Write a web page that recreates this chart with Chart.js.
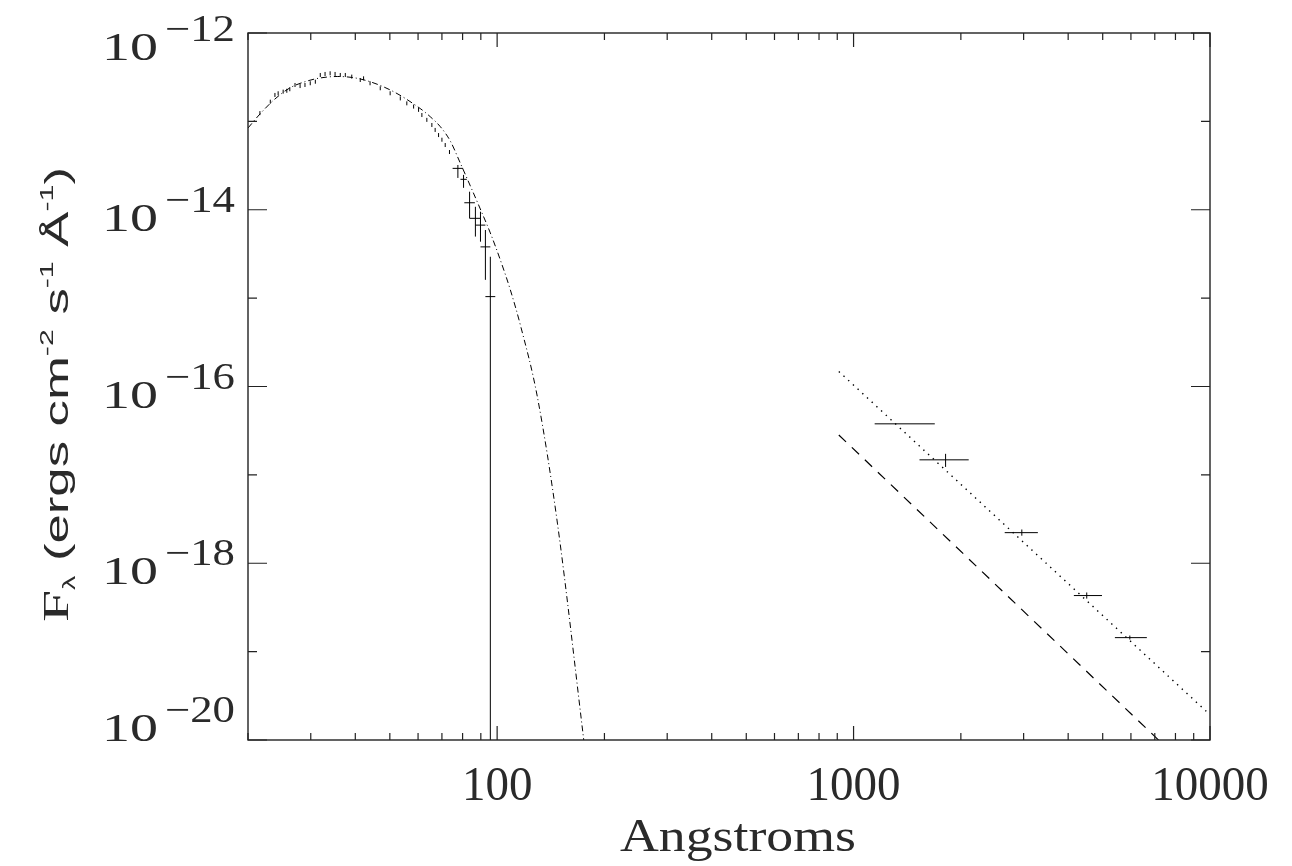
<!DOCTYPE html>
<html>
<head>
<meta charset="utf-8">
<script src="https://cdn.jsdelivr.net/npm/chart.js@4.4.1/dist/chart.umd.min.js"></script>
<style>
  html, body { margin: 0; padding: 0; background: #fff; }
  canvas { display: block; }
</style>
</head>
<body>
<canvas id="chart" width="1292" height="866"></canvas>
<script>
// model spectrum (dash-dot)
const modelWave = [20, 21.6, 23.8, 26.2, 29.3, 31.9, 35.6, 41.3, 50.1, 60.8, 64.9, 69.3, 73.9, 78.8, 84.1, 89.7, 95.7,
  102.1, 108.9, 116.2, 129.7, 147.6, 174.6, 185.1];
const modelFlux = [8.41e-14, 1.21e-13, 1.79e-13, 2.39e-13, 2.86e-13, 3.10e-13, 3.22e-13, 3.02e-13, 2.27e-13, 1.40e-13, 1.13e-13,
  8.7e-14, 5.99e-14, 3.38e-14, 1.86e-14, 1.02e-14, 5.46e-15, 2.70e-15, 1.24e-15, 4.96e-16, 7.61e-17, 2.85e-18, 1.08e-20, 1.5e-21];

// EUV spectrum bins (small ticks)
const specWave = [21.6, 23.1, 23.8, 24.3, 25.1, 25.7, 26.2, 27.1, 28.0, 28.9, 29.9, 30.9, 31.9, 32.9, 34.0, 35.1, 36.3, 37.5, 39.1,
  41.3, 42.2, 44.0, 47.0, 50.1, 53.5, 55.8, 58.3, 60.2, 61.5, 63.5, 65.6, 67.0, 68.5, 70.0, 71.5, 73.5];
const specFlux = [1.24e-13, 1.67e-13, 1.99e-13, 2.08e-13, 2.17e-13, 2.22e-13, 2.31e-13, 2.58e-13, 2.51e-13, 2.58e-13, 2.70e-13, 2.81e-13,
  3.35e-13, 3.44e-13, 3.50e-13, 3.44e-13, 3.35e-13, 3.35e-13, 3.21e-13, 2.94e-13, 3.07e-13, 2.70e-13, 2.37e-13, 2.08e-13, 1.82e-13,
  1.60e-13, 1.47e-13, 1.35e-13, 1.18e-13, 1.04e-13, 9.1e-14, 8.0e-14, 7.0e-14, 6.2e-14, 5.4e-14, 4.5e-14];

// EUV points with error bars
const euvWave = [77.6, 80.5, 83.7, 86.9, 89.8, 92.7, 95.7];
const euvWaveLo = [75.0, 78.9, 80.9, 83.7, 86.9, 89.8, 92.7];
const euvWaveHi = [80.3, 82.2, 86.6, 89.8, 92.7, 95.7, 98.8];
const euvFlux = [2.94e-14, 2.21e-14, 1.20e-14, 8.0e-15, 6.7e-15, 3.8e-15, 1.04e-15];
const euvFluxLo = [2.29e-14, 1.77e-14, 8.0e-15, 4.97e-15, 4.35e-15, 1.61e-15, 1e-25];
const euvFluxHi = [3.21e-14, 2.48e-14, 1.60e-14, 1.08e-14, 9.5e-15, 5.9e-15, 2.94e-15];

// optical / UV photometry
const optWave = [1390, 1812, 2965, 4510, 5958];
const optWaveLo = [1146, 1531, 2655, 4150, 5410];
const optWaveHi = [1690, 2104, 3289, 4977, 6650];
const optFlux = [3.78e-17, 1.48e-17, 2.22e-18, 4.31e-19, 1.44e-19];
const optFluxLo = [3.78e-17, 1.23e-17, 2.05e-18, 3.98e-19, 1.37e-19];
const optFluxHi = [3.78e-17, 1.73e-17, 2.41e-18, 4.67e-19, 1.52e-19];

// power laws
const dotWave = [909, 10000];
const dotFlux = [1.48e-16, 1.93e-20];
const dashWave = [909, 10000];
const dashFlux = [2.83e-17, 2.78e-21];

// axes
const xMin = 20, xMax = 10000;
const yMin = 1e-20, yMax = 1e-12;
const xMajorTicks = [100, 1000, 10000];
const xTickLabels = ["100", "1000", "10000"];
const xMinorTicks = [20, 30, 40, 50, 60, 70, 80, 90, 200, 300, 400, 500, 600, 700, 800, 900, 2000, 3000, 4000, 5000, 6000, 7000, 8000, 9000];
const yMajorTicks = [1e-12, 1e-14, 1e-16, 1e-18, 1e-20];
const yTickExponents = ["\u221212", "\u221214", "\u221216", "\u221218", "\u221220"];
const yMinorTicks = [1e-13, 1e-15, 1e-17, 1e-19];
const xTitle = "Angstroms";

const pts = (xs, ys) => xs.map((x, i) => ({ x, y: ys[i] }));

const errorBars = {
  id: "errorBars",
  afterDatasetsDraw(chart) {
    const { ctx, chartArea: a, scales: { x, y } } = chart;
    ctx.save();
    ctx.beginPath();
    ctx.rect(a.left, a.top, a.right - a.left, a.bottom - a.top);
    ctx.clip();
    ctx.strokeStyle = "#000";
    ctx.lineWidth = 1;
    const draw = (w, wl, wh, f, fl, fh) => {
      w.forEach((_, i) => {
        const px = x.getPixelForValue(w[i]);
        const py = y.getPixelForValue(f[i]);
        ctx.beginPath();
        ctx.moveTo(x.getPixelForValue(wl[i]), py);
        ctx.lineTo(x.getPixelForValue(wh[i]), py);
        ctx.moveTo(px, Math.min(y.getPixelForValue(fl[i]), a.bottom + 5));
        ctx.lineTo(px, y.getPixelForValue(fh[i]));
        ctx.stroke();
      });
    };
    draw(euvWave, euvWaveLo, euvWaveHi, euvFlux, euvFluxLo, euvFluxHi);
    draw(optWave, optWaveLo, optWaveHi, optFlux, optFluxLo, optFluxHi);
    ctx.restore();
  },
};

// draw text stretched to a given width
const fitText = (ctx, text, font, x, y, width, align) => {
  ctx.font = font;
  const w = ctx.measureText(text).width;
  const sx = width / w;
  ctx.save();
  ctx.translate(x, y);
  ctx.scale(sx, 1);
  ctx.textAlign = align;
  ctx.textBaseline = "alphabetic";
  ctx.fillText(text, 0, 0);
  ctx.restore();
};

const frame = {
  id: "frame",
  afterDraw(chart) {
    const { ctx, chartArea: a, scales: { x, y } } = chart;
    ctx.save();
    ctx.strokeStyle = "#222";
    ctx.lineWidth = 1.4;
    ctx.strokeRect(a.left, a.top, a.right - a.left, a.bottom - a.top);
    ctx.lineWidth = 1.2;
    ctx.beginPath();
    const xTick = (v, len) => {
      const px = x.getPixelForValue(v);
      ctx.moveTo(px, a.bottom); ctx.lineTo(px, a.bottom - len);
      ctx.moveTo(px, a.top); ctx.lineTo(px, a.top + len);
    };
    const yTick = (v, len) => {
      const py = y.getPixelForValue(v);
      ctx.moveTo(a.left, py); ctx.lineTo(a.left + len, py);
      ctx.moveTo(a.right, py); ctx.lineTo(a.right - len, py);
    };
    xMajorTicks.forEach((v) => xTick(v, 14));
    xMinorTicks.forEach((v) => xTick(v, 7));
    yMajorTicks.forEach((v) => yTick(v, 19));
    yMinorTicks.forEach((v) => yTick(v, 9));
    ctx.stroke();

    ctx.fillStyle = "#2a2a2a";
    // x tick labels
    xMajorTicks.forEach((v, i) => {
      const px = x.getPixelForValue(v);
      fitText(ctx, xTickLabels[i], "49px 'Liberation Serif'", px, 800, 23.5 * xTickLabels[i].length, "center");
    });
    fitText(ctx, xTitle, "47px 'Liberation Serif'", 738, 851, 236, "center");

    // y tick labels 10^n
    yMajorTicks.forEach((v, i) => {
      const py = y.getPixelForValue(v);
      let shift = 0;
      if (i === 0) shift = 6;
      if (i === yMajorTicks.length - 1) shift = -20;
      const right = a.left - 13;
      fitText(ctx, yTickExponents[i], "37px 'Liberation Serif'", right, py + 2 + shift, 70, "right");
      fitText(ctx, "10", "39px 'Liberation Serif'", right - 77, py + 21 + shift, 56, "right");
    });

    // y title
    const parts = [
      { t: "F", font: "'Liberation Serif'", size: 36, dy: 0 },
      { t: "\u03bb", font: "'Liberation Sans'", size: 18, dy: 7 },
      { t: " (ergs cm", font: "'Liberation Sans'", size: 33, dy: 0 },
      { t: "-2", font: "'Liberation Sans'", size: 19, dy: -15 },
      { t: " s", font: "'Liberation Sans'", size: 33, dy: 0 },
      { t: "-1", font: "'Liberation Sans'", size: 19, dy: -15 },
      { t: " \u00c5", font: "'Liberation Sans'", size: 33, dy: 0 },
      { t: "-1", font: "'Liberation Sans'", size: 19, dy: -15 },
      { t: ")", font: "'Liberation Sans'", size: 33, dy: 0 },
    ];
    let total = 0;
    parts.forEach((p) => {
      ctx.font = `${p.size}px ${p.font}`;
      p.w = ctx.measureText(p.t).width;
      total += p.w;
    });
    const k = 455 / total;
    ctx.save();
    ctx.translate(68, 622);
    ctx.rotate(-Math.PI / 2);
    ctx.scale(k, 1);
    ctx.textAlign = "left";
    ctx.textBaseline = "alphabetic";
    let u = 0;
    parts.forEach((p) => {
      ctx.font = `${p.size}px ${p.font}`;
      ctx.fillText(p.t, u, p.dy);
      u += p.w;
    });
    ctx.restore();
    ctx.restore();
  },
};

document.addEventListener("DOMContentLoaded", () => {
  const canvas = document.getElementById("chart");
  new Chart(canvas, {
    type: "scatter",
    data: {
      datasets: [
        {
          label: "model",
          data: pts(modelWave, modelFlux),
          showLine: true,
          borderColor: "#000",
          borderWidth: 1,
          borderDash: [6, 3, 1, 3],
          pointRadius: 0,
          cubicInterpolationMode: "monotone",
        },
        {
          label: "spectrum",
          data: pts(specWave, specFlux),
          showLine: false,
          borderColor: "#000",
          borderWidth: 1,
          pointStyle: "line",
          rotation: 90,
          pointRadius: 2,
        },
        {
          label: "euv",
          data: pts(euvWave, euvFlux),
          showLine: false,
          pointRadius: 0,
        },
        {
          label: "optical",
          data: pts(optWave, optFlux),
          showLine: false,
          pointRadius: 0,
        },
        {
          label: "dotted",
          data: pts(dotWave, dotFlux),
          showLine: true,
          borderColor: "#000",
          borderWidth: 1.4,
          borderDash: [1.4, 5],
          pointRadius: 0,
        },
        {
          label: "dashed",
          data: pts(dashWave, dashFlux),
          showLine: true,
          borderColor: "#000",
          borderWidth: 1.2,
          borderDash: [10, 8],
          pointRadius: 0,
        },
      ],
    },
    options: {
      responsive: false,
      animation: false,
      events: [],
      layout: { padding: { left: 248, top: 33, right: 82, bottom: 126 } },
      plugins: { legend: { display: false }, tooltip: { enabled: false } },
      scales: {
        x: { type: "logarithmic", min: xMin, max: xMax, display: false },
        y: { type: "logarithmic", min: yMin, max: yMax, display: false },
      },
    },
    plugins: [errorBars, frame],
  });
});
</script>
</body>
</html>
